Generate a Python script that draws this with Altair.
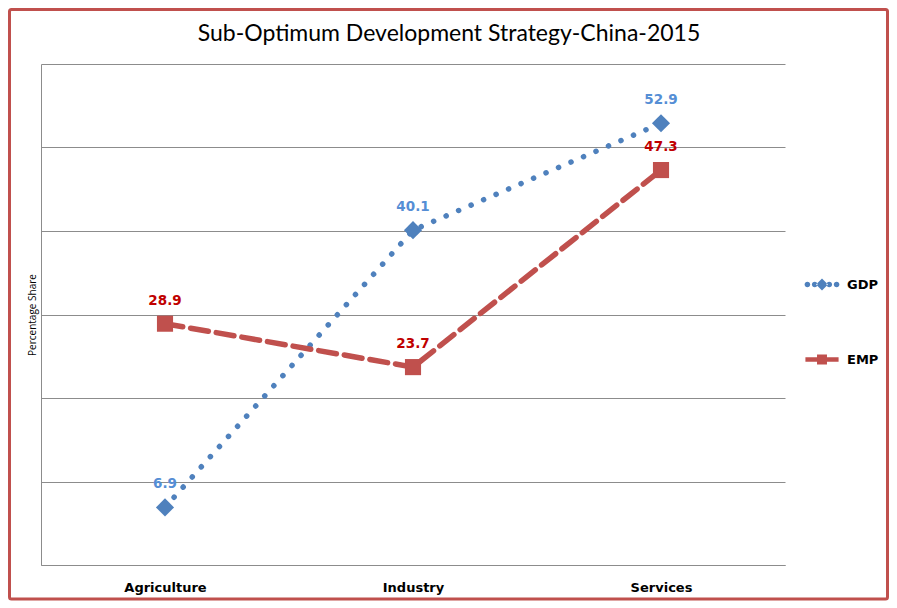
import altair as alt
import pandas as pd

title_text = "Sub-Optimum Development Strategy-China-2015"
sectors = ["Agriculture", "Industry", "Services"]
gdp = [6.9, 40.1, 52.9]
emp = [28.9, 23.7, 47.3]
series = ["GDP", "EMP"]
colors = ["#4F81BD", "#C0504D"]
label_colors = ["#558ED5", "#C00000"]
shapes = ["diamond", "square"]
marker_sizes = [330, 260]
dashes = [[0.1, 13.5], [18, 8]]


def circle(cx, r):
    return f"M{cx - r},0a{r},{r} 0 1,0 {2 * r},0a{r},{r} 0 1,0 {-2 * r},0Z"


gdp_symbol = "".join(circle(c, 0.17) for c in [-0.88, -0.44, 0.44, 0.88]) + \
    "M0,-0.36L0.36,0L0,0.36L-0.36,0Z"
emp_symbol = "M-1,-0.13H1V0.13H-1ZM-0.3,-0.3H0.3V0.3H-0.3Z"

rows = []
for s, vals in zip(series, [gdp, emp]):
    for sec, v in zip(sectors, vals):
        rows.append({"Sector": sec, "Series": s, "Value": v})
df = pd.DataFrame(rows)

x = alt.X("Sector:N", sort=sectors, title=None,
          scale=alt.Scale(type="point", padding=0.5),
          axis=alt.Axis(labelAngle=0, ticks=False, domainColor="#8c8c8c",
                        labelFont="DejaVu Sans", labelFontWeight="bold",
                        labelFontSize=13, labelColor="black", labelPadding=16))
y = alt.Y("Value:Q", title="Percentage Share",
          scale=alt.Scale(domain=[0, 60], nice=False),
          axis=alt.Axis(values=[0, 10, 20, 30, 40, 50, 60], labels=False, ticks=False,
                        grid=True, gridColor="#8c8c8c", gridWidth=1,
                        domainColor="#8c8c8c", titleFont="Open Sans",
                        titleFontWeight="normal", titleFontSize=10,
                        titleColor="black", titlePadding=4))

base = alt.Chart(df)
layers = []
for s, c, d in zip(series, colors, dashes):
    sub = base.transform_filter(alt.datum.Series == s)
    layers.append(sub.mark_line(strokeWidth=5.5, strokeCap="round", color=c,
                                strokeDash=d).encode(x=x, y=y))
for s, c, lc, sh, ms in zip(series, colors, label_colors, shapes, marker_sizes):
    sub = base.transform_filter(alt.datum.Series == s)
    layers.append(sub.mark_point(filled=True, size=ms, opacity=1, color=c,
                                 shape=sh).encode(x=x, y=y))
    layers.append(sub.mark_text(dy=-23, font="DejaVu Sans", fontWeight="bold",
                                fontSize=13.5, color=lc).encode(
        x=x, y=y, text=alt.Text("Value:Q", format=".1f")))

legend = alt.Legend(title=None, orient="none", legendX=764, legendY=203.5,
                    symbolSize=1100, symbolStrokeWidth=0,
                    labelFont="DejaVu Sans", labelFontWeight="bold", labelFontSize=13,
                    labelColor="black", rowPadding=51, labelOffset=8)
legend_layer = base.transform_filter("false").mark_point(
    filled=True, size=1100, opacity=1, strokeWidth=0).encode(
    x=x, y=y,
    color=alt.Color("Series:N", sort=series,
                    scale=alt.Scale(domain=series, range=colors), legend=legend),
    shape=alt.Shape("Series:N", sort=series,
                    scale=alt.Scale(domain=series, range=[gdp_symbol, emp_symbol]),
                    legend=legend))

one = alt.Data(values=[{}])
border = alt.Chart(one).mark_rect(
    filled=False, stroke="#C0504D", strokeWidth=3, cornerRadius=2).encode(
    x=alt.value(-31.5), x2=alt.value(846.5), y=alt.value(-54.5), y2=alt.value(535))
title = alt.Chart(one).mark_text(
    font="Lato", fontSize=23, color="black", align="center", baseline="alphabetic").encode(
    x=alt.value(408), y=alt.value(-23), text=alt.value(title_text))

chart = alt.layer(border, title, *layers, legend_layer).properties(
    width=744, height=501,
    autosize=alt.AutoSizeParams(type="none"),
    padding={"left": 33, "top": 56, "right": 104, "bottom": 36},
    background="white",
).configure_view(strokeWidth=0, strokeOpacity=0)

chart.save("out.html", embed_options={"renderer": "svg", "actions": False})
